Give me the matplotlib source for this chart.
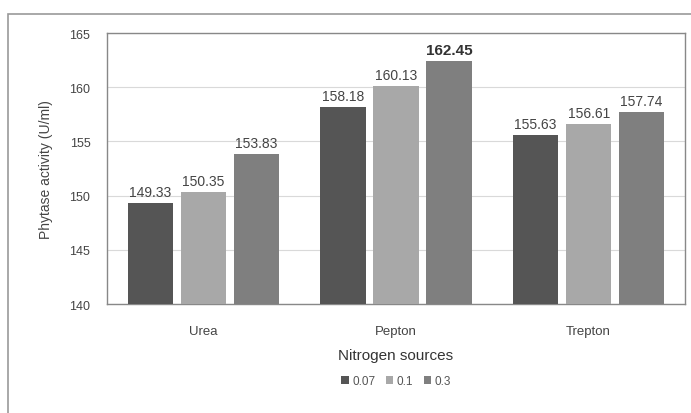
import matplotlib
matplotlib.use("Agg")
import matplotlib.pyplot as plt
import numpy as np
from matplotlib.patches import Rectangle

categories = ["Urea", "Pepton", "Trepton"]
series_names = ["0.07", "0.1", "0.3"]
vals_007 = [149.33, 158.18, 155.63]
vals_01 = [150.35, 160.13, 156.61]
vals_03 = [153.83, 162.45, 157.74]
label_007 = ["149.33", "158.18", "155.63"]
label_01 = ["150.35", "160.13", "156.61"]
label_03 = ["153.83", "162.45", "157.74"]
colors = ["#555555", "#a8a8a8", "#7f7f7f"]

plt.rcParams['font.family'] = ['Liberation Sans', 'DejaVu Sans']
fig = plt.figure(figsize=(6.91, 4.14), dpi=100)
fig.patches.append(Rectangle((8/691, 1 - 420/414), 690/691, (420-15)/414, transform=fig.transFigure,
                             fill=False, edgecolor="#999999", linewidth=1.2))
ax = fig.add_axes([107/691, 1 - 305/414, (685-107)/691, (305-34)/414])

x = np.arange(len(categories))
w = 0.235
gap = 0.04
offsets = [-(w + gap), 0, (w + gap)]
all_vals = [vals_007, vals_01, vals_03]
all_labels = [label_007, label_01, label_03]
for i, (vals, labs) in enumerate(zip(all_vals, all_labels)):
    bars = ax.bar(x + offsets[i], np.array(vals) - 140, bottom=140, width=w, color=colors[i],
                  label=series_names[i], zorder=3)
    for j, (b, lab) in enumerate(zip(bars, labs)):
        bold = (lab == "162.45")
        ax.text(b.get_x() + b.get_width()/2, vals[j] + 0.35, lab, ha="center", va="bottom",
                fontsize=11 if bold else 10, fontweight="bold" if bold else "normal",
                color="#333333" if bold else "#444444")

ax.set_ylim(140, 165)
ax.set_xlim(-0.5, 2.5)
ax.set_yticks([140, 145, 150, 155, 160, 165])
ax.tick_params(axis="y", length=0, labelsize=9, colors="#444444", pad=12)
ax.set_xticks(x)
ax.set_xticklabels(categories)
ax.tick_params(axis="x", length=0, labelsize=9.5, colors="#444444", pad=15)
ax.grid(axis="y", color="#d9d9d9", linewidth=0.8, zorder=0)
for s in ax.spines.values():
    s.set_color("#888888")
    s.set_linewidth(1.0)
ax.set_ylabel("Phytase activity (U/ml)", fontsize=10, color="#444444", labelpad=12)
ax.set_xlabel("Nitrogen sources", fontsize=11, color="#333333", labelpad=8)
ax.legend(loc="center", bbox_to_anchor=(0.5, 1 - (382 - 34) / (305 - 34)), ncol=3, frameon=False,
          fontsize=8.5, handlelength=0.6, handleheight=0.6, handletextpad=0.3,
          columnspacing=0.9, labelcolor="#555555")

fig.savefig("out.png", dpi=100)
